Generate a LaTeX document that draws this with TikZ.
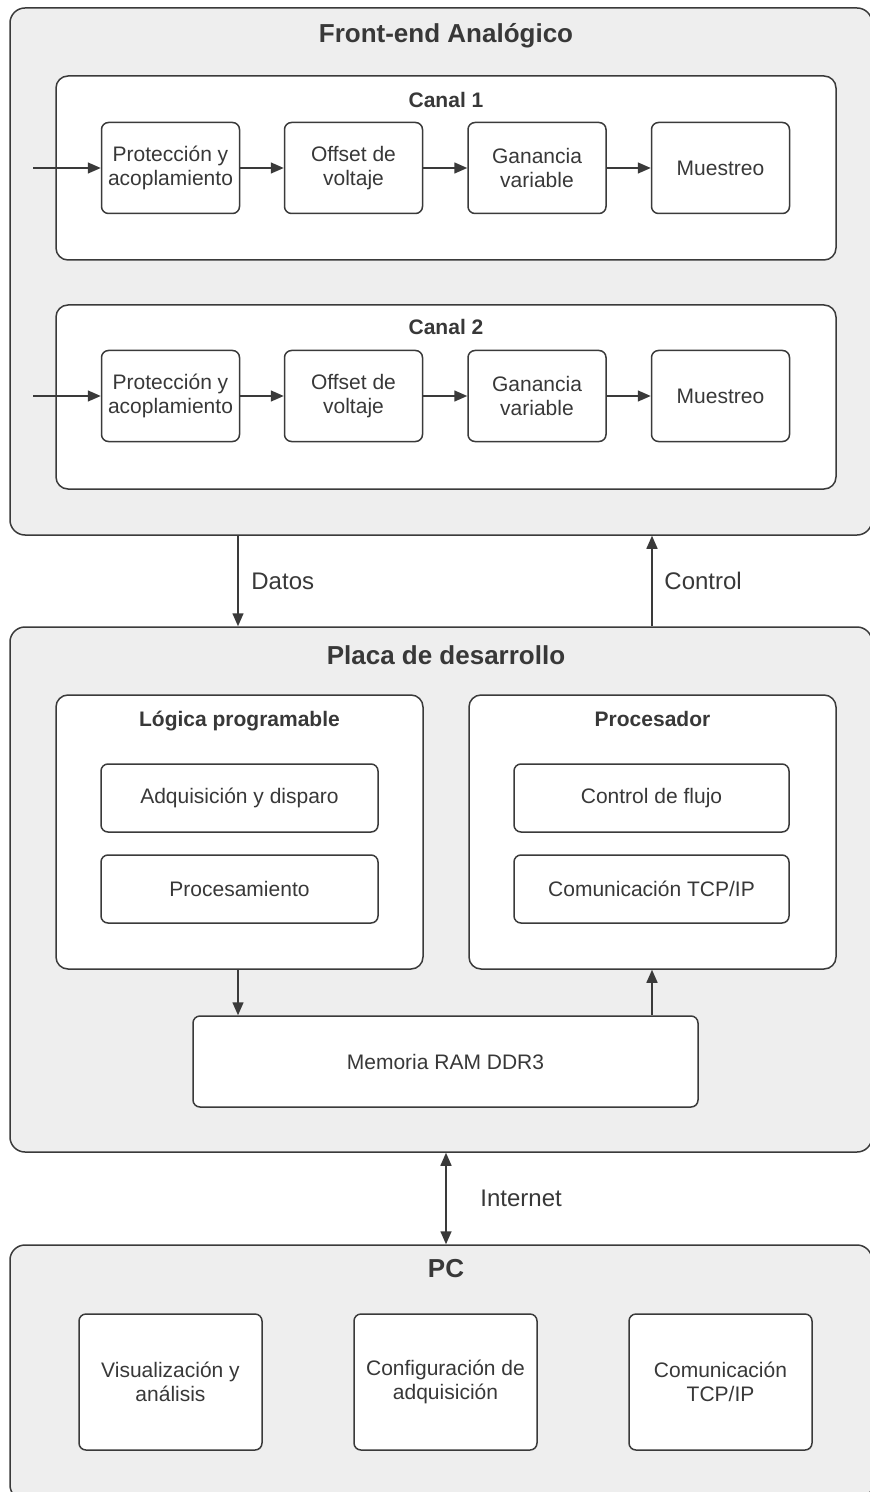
\documentclass[tikz,border=0pt]{standalone}
\usepackage{fontspec}
\setmainfont{Liberation Sans}
\usetikzlibrary{arrows.meta}
\definecolor{linea}{HTML}{3A3A3A}
\definecolor{texto}{HTML}{383838}
\definecolor{fondo}{HTML}{EEEEEE}
\tikzset{
  marco/.style={draw=linea, line width=0.75pt, fill=fondo, rounded corners=7.5pt, minimum width=431pt},
  sub/.style={draw=linea, line width=0.75pt, fill=white, rounded corners=6pt},
  caja/.style={draw=linea, line width=0.75pt, fill=white, rounded corners=3.5pt, align=center,
    text=texto, font=\fontsize{10.5}{12}\selectfont, inner sep=1pt},
  titulo/.style={text=texto, font=\bfseries\fontsize{13}{15}\selectfont},
  subtitulo/.style={text=texto, font=\bfseries\fontsize{10.5}{12}\selectfont, text height=1.6ex, text depth=0.4ex},
  etiqueta/.style={text=texto, font=\fontsize{12}{14}\selectfont},
  arr/.style={draw=linea, line width=0.75pt, -{Triangle[length=6.5pt,width=5.5pt]}},
}
\begin{document}
\begin{tikzpicture}[x=0.5pt, y=-0.5pt]
    \useasboundingbox (0,0) rectangle (870,1492);

    % Front-end
    \node[marco, minimum height=263.5pt] (fe) at (441,271.5) {};
    \node[titulo] (tfe) at (446,36) {Front-end Analógico};

    \node[sub, minimum width=390pt, minimum height=92pt] (can1) at (446,168) {};
    \node[subtitulo] (tcan1) at (446,101) {Canal 1};
    \node[caja, minimum width=69pt, minimum height=45.5pt] (p1) at (170.5,168) {Protección y\\acoplamiento};
    \node[caja, minimum width=69pt, minimum height=45.5pt] (o1) at (353.5,168) {Offset de\\voltaje};
    \node[caja, minimum width=69pt, minimum height=45.5pt] (g1) at (537,168) {Ganancia\\variable};
    \node[caja, minimum width=69pt, minimum height=45.5pt] (m1) at (720.5,168) {Muestreo};
    \coordinate (in1) at (33,168);
    \draw[arr] (in1) -- (p1);
    \draw[arr] (p1) -- (o1);
    \draw[arr] (o1) -- (g1);
    \draw[arr] (g1) -- (m1);

    \node[sub, minimum width=390pt, minimum height=92pt] (can2) at (446,397) {};
    \node[subtitulo] (tcan2) at (446,328) {Canal 2};
    \node[caja, minimum width=69pt, minimum height=45.5pt] (p2) at (170.5,396) {Protección y\\acoplamiento};
    \node[caja, minimum width=69pt, minimum height=45.5pt] (o2) at (353.5,396) {Offset de\\voltaje};
    \node[caja, minimum width=69pt, minimum height=45.5pt] (g2) at (537,396) {Ganancia\\variable};
    \node[caja, minimum width=69pt, minimum height=45.5pt] (m2) at (720.5,396) {Muestreo};
    \coordinate (in2) at (33,396);
    \draw[arr] (in2) -- (p2);
    \draw[arr] (p2) -- (o2);
    \draw[arr] (o2) -- (g2);
    \draw[arr] (g2) -- (m2);

    % Placa de desarrollo
    \node[marco, minimum height=262.5pt] (placa) at (441,889.5) {};
    \node[titulo] (tplaca) at (446,655) {Placa de desarrollo};

    \node[sub, minimum width=183.5pt, minimum height=137pt] (logica) at (239.5,832) {};
    \node[subtitulo] (tlogica) at (239.5,720) {Lógica programable};
    \node[caja, minimum width=138.5pt, minimum height=34pt] (adq) at (239.5,798) {Adquisición y disparo};
    \node[caja, minimum width=138.5pt, minimum height=34pt] (proc) at (239.5,889) {Procesamiento};

    \node[sub, minimum width=183.5pt, minimum height=137pt] (cpu) at (652.5,832) {};
    \node[subtitulo] (tcpu) at (652.5,720) {Procesador};
    \node[caja, minimum width=137.5pt, minimum height=34pt] (flujo) at (651.5,798) {Control de flujo};
    \node[caja, minimum width=137.5pt, minimum height=34pt] (tcp) at (651.5,889) {Comunicación TCP/IP};

    \node[caja, minimum width=252.5pt, minimum height=45.5pt] (ram) at (445.5,1061.5) {Memoria RAM DDR3};

    \coordinate (xd) at (238,0);
    \coordinate (xc) at (652,0);
    \draw[arr] (xd |- logica.south) -- (xd |- ram.north);
    \draw[arr] (xc |- ram.north) -- (xc |- cpu.south);

    % Enlaces entre bloques
    \draw[arr] (xd |- fe.south) -- (xd |- placa.north) node[etiqueta, midway, right=3pt] {Datos};
    \draw[arr] (xc |- placa.north) -- (xc |- fe.south) node[etiqueta, midway, right=2.5pt] {Control};

    % PC
    \node[marco, minimum height=127.5pt] (pc) at (441,1372.5) {};
    \node[titulo] (tpc) at (446,1269) {PC};
    \node[caja, minimum width=91.5pt, minimum height=68pt] (vis) at (170.5,1382) {Visualización y\\análisis};
    \node[caja, minimum width=91.5pt, minimum height=68pt] (conf) at (445.5,1382) {Configuración de\\adquisición};
    \node[caja, minimum width=91.5pt, minimum height=68pt] (com) at (720.5,1382) {Comunicación\\TCP/IP};

    \coordinate (xi) at (446,0);
    \draw[arr, {Triangle[length=6.5pt,width=5.5pt]}-{Triangle[length=6.5pt,width=5.5pt]}] (xi |- placa.south) -- (xi |- pc.north)
      node[etiqueta, midway, right=13.5pt] {Internet};
\end{tikzpicture}
\end{document}
